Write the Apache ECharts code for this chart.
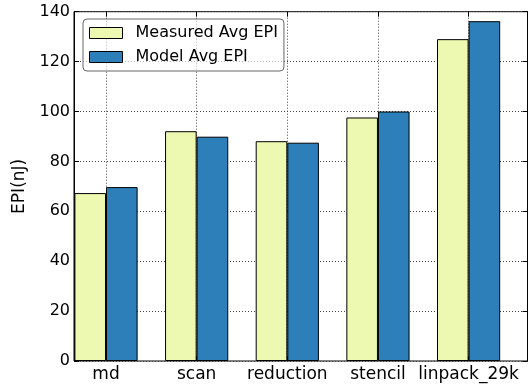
<!DOCTYPE html>
<html>
<head>
<meta charset="utf-8">
<script src="https://cdn.jsdelivr.net/npm/echarts@6/dist/echarts.min.js"></script>
<style>html,body{margin:0;padding:0;background:#fff;}#c{width:531px;height:388px;}</style>
</head>
<body>
<div id="c"></div>
<script>
const categories = ['md', 'scan', 'reduction', 'stencil', 'linpack_29k'];
const measured = [67.3, 92.1, 88.1, 97.6, 129.0];
const model = [69.7, 89.9, 87.5, 100.0, 136.2];
const yTicks = { min: 0, max: 140, interval: 20 };

const FONT = 'DejaVu Sans';
const dotted = { type: [1, 2], color: '#444', width: 1 };
const chart = echarts.init(document.getElementById('c'), null, { renderer: 'canvas' });

chart.setOption({
  animation: false,
  textStyle: { fontFamily: FONT },
  grid: [
    { left: 74, right: 3.5, top: 11.7, bottom: 27, show: true, borderColor: '#000', borderWidth: 1, backgroundColor: 'transparent' },
    { left: 106, width: 362.6, top: 11.7, bottom: 27 }
  ],
  xAxis: [
    { gridIndex: 0, type: 'value', min: 0, max: 5, show: false },
    { gridIndex: 1, type: 'category', data: categories, boundaryGap: false, position: 'bottom',
      axisLine: { show: false },
      axisTick: { show: true, inside: true, length: 5, interval: 0, lineStyle: { color: '#000' } },
      axisLabel: { fontFamily: FONT, fontSize: 17, color: '#000', margin: 5, interval: 0, hideOverlap: false },
      splitLine: { show: true, interval: 0, lineStyle: dotted } },
    { gridIndex: 1, type: 'category', data: categories, boundaryGap: false, position: 'top',
      axisLine: { show: false },
      axisTick: { show: true, inside: true, length: 5, interval: 0, lineStyle: { color: '#000' } },
      axisLabel: { show: false }, splitLine: { show: false } }
  ],
  yAxis: [
    { gridIndex: 0, type: 'value', min: yTicks.min, max: yTicks.max, interval: yTicks.interval, position: 'left',
      name: 'EPI(nJ)', nameLocation: 'middle', nameGap: 41,
      nameTextStyle: { fontFamily: FONT, fontSize: 17, color: '#000' },
      axisLine: { show: true, lineStyle: { color: '#000' } },
      axisTick: { show: true, inside: true, length: 5, lineStyle: { color: '#000' } },
      axisLabel: { fontFamily: FONT, fontSize: 16, color: '#000', margin: 4 },
      splitLine: { show: true, lineStyle: dotted } },
    { gridIndex: 0, type: 'value', min: yTicks.min, max: yTicks.max, interval: yTicks.interval, position: 'right',
      axisLine: { show: true, lineStyle: { color: '#000' } },
      axisTick: { show: true, inside: true, length: 5, lineStyle: { color: '#000' } },
      axisLabel: { show: false }, splitLine: { show: false } },
    { gridIndex: 1, type: 'value', min: yTicks.min, max: yTicks.max, interval: yTicks.interval, show: false }
  ],
  legend: {
    left: 83, top: 19, orient: 'vertical',
    padding: [6, 6, 6, 6], itemGap: 8, itemWidth: 33, itemHeight: 11, icon: 'rect',
    backgroundColor: 'rgba(255,255,255,0.6)', borderColor: '#666', borderWidth: 1, borderRadius: 4,
    itemStyle: { borderColor: '#000', borderWidth: 1 },
    textStyle: { fontFamily: FONT, fontSize: 16, color: '#000', padding: [0, 0, 0, 8] },
    data: ['Measured Avg EPI', 'Model Avg EPI']
  },
  series: [
    { name: 'Measured Avg EPI', type: 'bar', xAxisIndex: 1, yAxisIndex: 2, data: measured,
      barWidth: 31.6, barGap: '0%',
      itemStyle: { color: '#edf8b1', borderColor: '#000', borderWidth: 1 } },
    { name: 'Model Avg EPI', type: 'bar', xAxisIndex: 1, yAxisIndex: 2, data: model,
      barWidth: 31.6, barGap: '0%',
      itemStyle: { color: '#2c7fb8', borderColor: '#000', borderWidth: 1 } }
  ]
});
</script>
</body>
</html>
